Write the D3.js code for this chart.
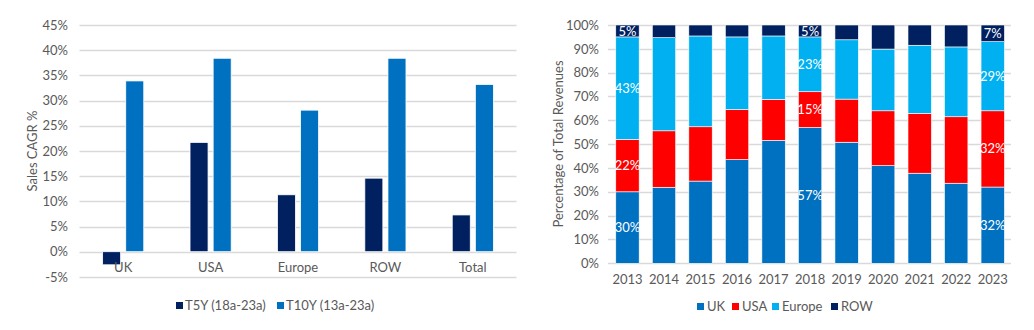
<!DOCTYPE html>
<html>
<head>
<meta charset="utf-8">
<script src="https://cdn.jsdelivr.net/npm/d3@7"></script>
<style>
  html, body { margin: 0; padding: 0; background: #fff; }
  svg { display: block; }
  text { font-family: Lato, "Open Sans", sans-serif; fill: #595959; }
</style>
</head>
<body>
<svg id="chart" width="1034" height="330"></svg>
<script>
// ---- Left chart: sales CAGR by region ----
const regions = ["UK", "USA", "Europe", "ROW", "Total"];
const cagrT5Y = [-2.6, 21.7, 11.3, 14.6, 7.3];
const cagrT10Y = [33.9, 38.4, 28.1, 38.4, 33.2];
const cagrSeries = ["T5Y (18a-23a)", "T10Y (13a-23a)"];
const cagrTicks = [-5, 0, 5, 10, 15, 20, 25, 30, 35, 40, 45];

// ---- Right chart: revenue mix by year ----
const years = ["2013", "2014", "2015", "2016", "2017", "2018", "2019", "2020", "2021", "2022", "2023"];
const shareUK =     [30, 31.9, 34.5, 43.5, 51.6, 57, 50.8, 41.0, 37.8, 33.6, 32];
const shareUSA =    [22, 23.7, 22.8, 21.0, 17.2, 15, 18.1, 23.0, 25.1, 27.9, 32];
const shareEurope = [43, 39.1, 38.1, 30.5, 26.6, 23, 24.9, 25.9, 28.6, 29.3, 29];
const shareROW =    [5, 5.3, 4.6, 5.0, 4.6, 5, 6.2, 10.1, 8.5, 9.2, 7];
const mixSeries = ["UK", "USA", "Europe", "ROW"];
const labelledYears = ["2013", "2018", "2023"];

const C_NAVY = "#002060", C_BLUE = "#0070C0", C_RED = "#FF0000", C_SKY = "#00B0F0";
const GRID = "#D9D9D9";

const svg = d3.select("#chart");

// ================= Left chart =================
{
  const x = d3.scaleBand().domain(regions).range([79.5, 516.5]);
  const y = d3.scaleLinear().domain([-5, 45]).range([276.9, 25]);
  const g = svg.append("g");

  // gridlines
  g.append("g").selectAll("line").data(cagrTicks).join("line")
    .attr("x1", 79.5).attr("x2", 516.5)
    .attr("y1", d => Math.round(y(d)) + 0.5).attr("y2", d => Math.round(y(d)) + 0.5)
    .attr("stroke", GRID).attr("stroke-width", 1.3);

  // y axis tick labels
  const yAxis = d3.axisLeft(y).tickValues(cagrTicks).tickFormat(d => d + "%").tickSize(0).tickPadding(0);
  const ya = g.append("g").attr("transform", "translate(68,0)").call(yAxis);
  ya.select(".domain").remove();
  ya.selectAll("text").attr("font-size", 13).attr("font-family", "Lato, sans-serif").attr("fill", "#595959");

  // bars
  const sub = d3.scaleBand().domain(cagrSeries).range([0, x.bandwidth()]).paddingInner(0.22).paddingOuter(1.0);
  const rows = regions.map((r, i) => ({ r, vals: [cagrT5Y[i], cagrT10Y[i]] }));
  const colors = [C_NAVY, C_BLUE];
  rows.forEach(row => {
    row.vals.forEach((v, j) => {
      g.append("rect")
        .attr("x", x(row.r) + sub(cagrSeries[j]))
        .attr("width", sub.bandwidth())
        .attr("y", y(Math.max(0, v)))
        .attr("height", Math.abs(y(v) - y(0)))
        .attr("fill", colors[j])
        .attr("stroke", "#fff").attr("stroke-width", 0.8);
    });
  });

  // category labels
  const xAxis = d3.axisBottom(x).tickSize(0).tickPadding(0);
  const xa = g.append("g").attr("transform", "translate(0,263)").call(xAxis);
  xa.select(".domain").remove();
  xa.selectAll("text").attr("font-size", 13).attr("fill", "#595959").attr("font-family", "Lato, sans-serif");

  // axis title
  g.append("text").attr("transform", "translate(37,151) rotate(-90)")
    .attr("text-anchor", "middle").attr("font-size", 13).text("Sales CAGR %");

  // legend
  const lx = [176, 277];
  cagrSeries.forEach((s, j) => {
    g.append("rect").attr("x", lx[j]).attr("y", 302).attr("width", 7).attr("height", 7).attr("fill", colors[j]);
    g.append("text").attr("x", lx[j] + 9).attr("y", 310).attr("font-size", 13).text(s);
  });
}

// ================= Right chart =================
{
  const x = d3.scaleBand().domain(years).range([609.2, 1011]).paddingInner(0.36).paddingOuter(0.18);
  const y = d3.scaleLinear().domain([0, 100]).range([263.3, 25]);
  const g = svg.append("g");
  const pct = d3.range(0, 101, 10);

  g.append("g").selectAll("line").data(pct).join("line")
    .attr("x1", 608).attr("x2", 1011)
    .attr("y1", d => Math.round(y(d)) + 0.5).attr("y2", d => Math.round(y(d)) + 0.5)
    .attr("stroke", GRID).attr("stroke-width", 1.3);

  const yAxis = d3.axisLeft(y).tickValues(pct).tickFormat(d => d + "%").tickSize(0).tickPadding(0);
  const ya = g.append("g").attr("transform", "translate(599,0)").call(yAxis);
  ya.select(".domain").remove();
  ya.selectAll("text").attr("font-size", 13).attr("fill", "#595959").attr("font-family", "Lato, sans-serif");

  const table = years.map((yr, i) => ({ year: yr, UK: shareUK[i], USA: shareUSA[i], Europe: shareEurope[i], ROW: shareROW[i] }));
  const stacked = d3.stack().keys(mixSeries)(table);
  const colors = { UK: C_BLUE, USA: C_RED, Europe: C_SKY, ROW: C_NAVY };

  stacked.forEach(layer => {
    g.append("g").selectAll("rect").data(layer).join("rect")
      .attr("x", d => x(d.data.year))
      .attr("width", x.bandwidth())
      .attr("y", d => y(d[1]))
      .attr("height", d => y(d[0]) - y(d[1]))
      .attr("fill", colors[layer.key])
      .attr("stroke", "#fff").attr("stroke-width", 0.6);

    // value labels on selected years
    g.append("g").selectAll("text").data(layer.filter(d => labelledYears.includes(d.data.year))).join("text")
      .attr("x", d => x(d.data.year) + x.bandwidth() / 2)
      .attr("y", d => y((d[0] + d[1]) / 2))
      .attr("dy", "0.35em")
      .attr("text-anchor", "middle")
      .attr("font-size", 13)
      .style("fill", "#fff")
      .text(d => Math.round(d[1] - d[0]) + "%");
  });

  const xAxis = d3.axisBottom(x).tickSize(0).tickPadding(0);
  const xa = g.append("g").attr("transform", "translate(0,275)").call(xAxis);
  xa.select(".domain").remove();
  xa.selectAll("text").attr("font-size", 13).attr("fill", "#595959").attr("font-family", "Lato, sans-serif");

  g.append("text").attr("transform", "translate(563,144) rotate(-90)")
    .attr("text-anchor", "middle").attr("font-size", 13).text("Percentage of Total Revenues");

  const lx = [697, 732, 772, 831];
  mixSeries.forEach((s, j) => {
    g.append("rect").attr("x", lx[j]).attr("y", 303).attr("width", 7).attr("height", 7).attr("fill", colors[s]);
    g.append("text").attr("x", lx[j] + 10).attr("y", 311).attr("font-size", 13).text(s);
  });
}
</script>
</body>
</html>
